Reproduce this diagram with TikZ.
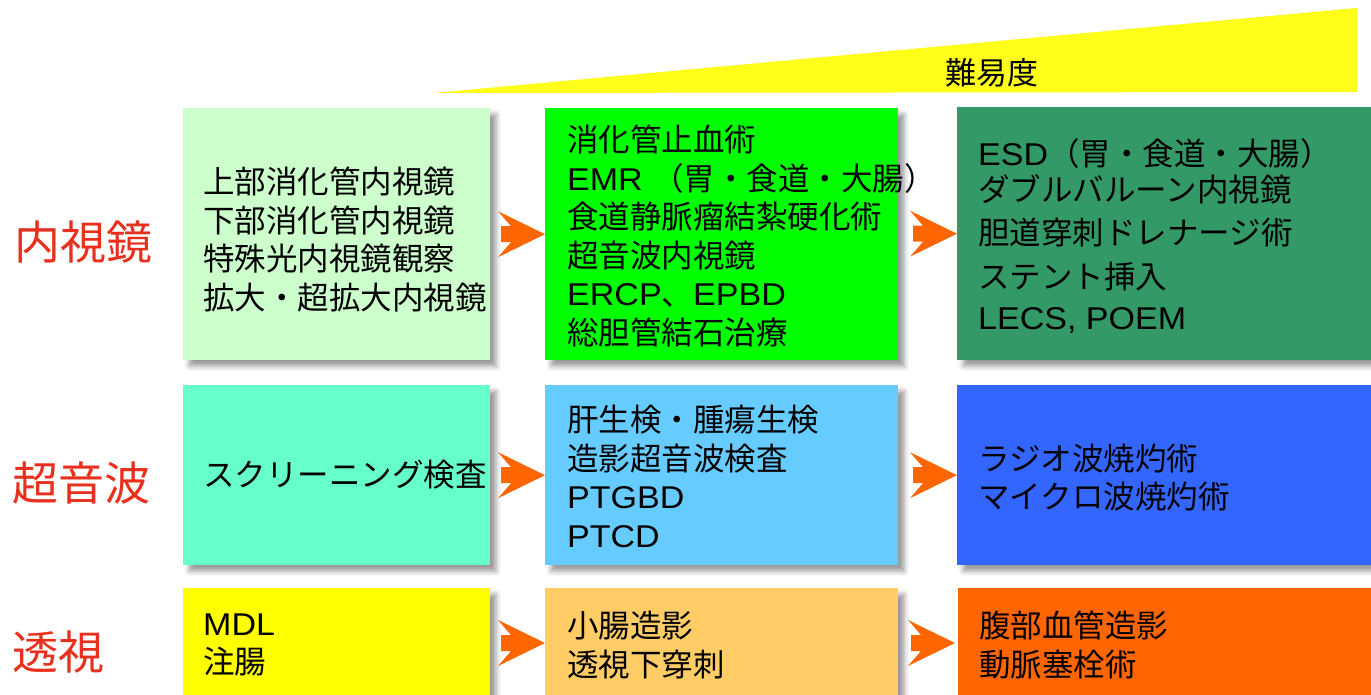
\documentclass[tikz,border=0pt]{standalone}
\usepackage{fontspec}
\setmainfont{Noto Sans CJK JP}
\newfontfamily\lat[FakeStretch=1.08]{Liberation Sans}
\usetikzlibrary{shadows.blur}
\definecolor{tri}{HTML}{FFFF19}
\definecolor{lblred}{HTML}{E8301E}
\definecolor{arrowc}{HTML}{FF6600}
\definecolor{c11}{HTML}{CCFFCC}
\definecolor{c12}{HTML}{00FF00}
\definecolor{c13}{HTML}{339966}
\definecolor{c21}{HTML}{66FFCC}
\definecolor{c22}{HTML}{66CCFF}
\definecolor{c23}{HTML}{3366FF}
\definecolor{c31}{HTML}{FFFF00}
\definecolor{c32}{HTML}{FFCC66}
\definecolor{c33}{HTML}{FF6600}
\tikzset{
  box/.style={rectangle, draw=none, inner sep=0pt, anchor=north west,
    blur shadow={shadow xshift=6pt, shadow yshift=-6pt, shadow blur radius=5pt, shadow opacity=40}},
  txt/.style={anchor=west, align=left, inner sep=0pt, text=black,
    font=\fontsize{31.5}{38.5}\selectfont},
  lbl/.style={anchor=west, inner sep=0pt, text=lblred, font=\fontsize{46}{50}\selectfont},
  blockarrow/.pic={\fill[arrowc] (-47,-23) -- (0,0) -- (-47,23) -- (-34,8) -- (-44,8) -- (-44,-8) -- (-34,-8) -- cycle;}
}
\begin{document}
\begin{tikzpicture}[x=1pt,y=-1pt]
\useasboundingbox (0,0) rectangle (1371,695);
\clip (0,0) rectangle (1371,695);
% difficulty wedge
\fill[tri] (433,93) -- (1357,8) -- (1357,92) -- cycle;
\node[inner sep=0pt, font=\fontsize{31}{34}\selectfont] (diff) at (992,73) {難易度};
% row labels
\node[lbl] (l1) at (14,242) {内視鏡};
\node[lbl] (l2) at (12,483) {超音波};
\node[lbl] (l3) at (12,652) {透視};
% boxes
\node[box, fill=c11, minimum width=307pt, minimum height=252pt] (r1c1) at (183,108) {};
\node[box, fill=c12, minimum width=353pt, minimum height=252pt] (r1c2) at (545,108) {};
\node[box, fill=c13, minimum width=423pt, minimum height=253pt] (r1c3) at (957,107) {};
\node[box, fill=c21, minimum width=307pt, minimum height=180pt] (r2c1) at (183,385) {};
\node[box, fill=c22, minimum width=353pt, minimum height=180pt] (r2c2) at (545,385) {};
\node[box, fill=c23, minimum width=423pt, minimum height=180pt] (r2c3) at (957,385) {};
\node[box, fill=c31, minimum width=307pt, minimum height=110pt] (r3c1) at (183,588) {};
\node[box, fill=c32, minimum width=353pt, minimum height=110pt] (r3c2) at (545,588) {};
\node[box, fill=c33, minimum width=423pt, minimum height=110pt] (r3c3) at (958,588) {};
% arrows
\pic at (r1c2.west) {blockarrow};
\pic at (r1c3.west) {blockarrow};
\pic at (r2c2.west) {blockarrow};
\pic at (r2c3.west) {blockarrow};
\pic at (545,643) {blockarrow};
\pic at (955,643) {blockarrow};
% texts
\node[txt] (t11) at (203,239.5) {上部消化管内視鏡\\下部消化管内視鏡\\特殊光内視鏡観察\\拡大・超拡大内視鏡};
\node[txt] (t12) at (567,236) {消化管止血術\\{\lat EMR }（胃・食道・大腸）\\食道静脈瘤結紮硬化術\\超音波内視鏡\\{\lat ERCP}、{\lat EPBD}\\総胆管結石治療};
\node[txt] (t13) at (978,236.5) {{\lat ESD}（胃・食道・大腸）\\[-3pt]ダブルバルーン内視鏡\\[5pt]胆道穿刺ドレナージ術\\[5pt]ステント挿入\\[3pt]{\lat LECS, POEM}};
\node[txt] (t21) at (203,475) {スクリーニング検査};
\node[txt] (t22) at (567,476.5) {肝生検・腫瘍生検\\造影超音波検査\\{\lat PTGBD}\\{\lat PTCD}};
\node[txt] (t23) at (978,477.5) {ラジオ波焼灼術\\マイクロ波焼灼術};
\node[txt] (t31) at (203,645) {{\lat MDL}\\注腸};
\node[txt] (t32) at (567,645) {小腸造影\\透視下穿刺};
\node[txt] (t33) at (979,645) {腹部血管造影\\動脈塞栓術};
\end{tikzpicture}
\end{document}
